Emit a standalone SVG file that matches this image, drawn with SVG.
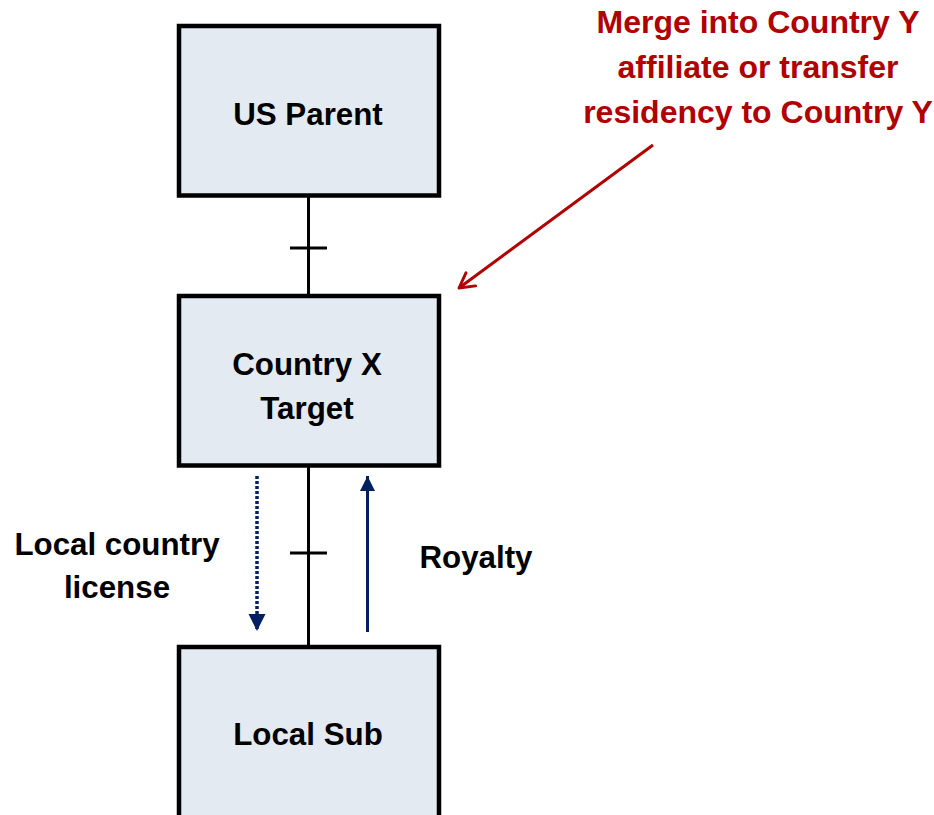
<svg xmlns="http://www.w3.org/2000/svg" width="934" height="815" viewBox="0 0 934 815">
<style>
.box{fill:#E4EAF2;stroke:#000;stroke-width:4.5}
.lbl{font-family:"Liberation Sans",Arial,sans-serif;font-weight:bold;font-size:31.3px;fill:#000;text-anchor:middle}
.red{font-family:"Liberation Sans",Arial,sans-serif;font-weight:bold;font-size:32px;fill:#B00000;text-anchor:middle}
.own{stroke:#000;stroke-width:3;fill:none}
.navy{stroke:#002060;stroke-width:3;fill:none}
</style>
<defs>
<marker id="navyHead" viewBox="0 0 10 10" refX="10" refY="5" markerWidth="5" markerHeight="5" orient="auto" markerUnits="strokeWidth">
<path d="M0,0 L10,5 L0,10 z" fill="#002060"/>
</marker>
<marker id="redHead" viewBox="0 0 12 12" refX="10" refY="6" markerWidth="6.5" markerHeight="6.5" orient="auto" markerUnits="strokeWidth">
<path d="M1,1 L10,6 L1,11" fill="none" stroke="#B00000" stroke-width="1.8" stroke-linecap="round" stroke-linejoin="round"/>
</marker>
</defs>
<g id="connectors">
<line class="own" x1="308.5" y1="196" x2="308.5" y2="296"/>
<line class="own" x1="290" y1="248" x2="327" y2="248"/>
<line class="own" x1="308.5" y1="465" x2="308.5" y2="647"/>
<line class="own" x1="290" y1="553" x2="327" y2="553"/>
<line x1="257" y1="476" x2="257" y2="631" stroke="#002060" stroke-width="3.5" stroke-dasharray="3,2" marker-end="url(#navyHead)"/>
<line class="navy" x1="367.5" y1="632" x2="367.5" y2="476" marker-end="url(#navyHead)"/>
<line x1="653" y1="145" x2="459" y2="288" stroke="#B00000" stroke-width="3" marker-end="url(#redHead)"/>
</g>
<g id="us-parent">
<rect class="box" x="179" y="26" width="260" height="169.5"/>
<text class="lbl" x="308" y="125">US Parent</text>
</g>
<g id="country-x-target">
<rect class="box" x="179" y="296" width="260" height="169.5"/>
<text class="lbl" x="307" y="375">Country X</text>
<text class="lbl" x="307" y="419">Target</text>
</g>
<g id="local-sub">
<rect class="box" x="179" y="647" width="260" height="200"/>
<text class="lbl" x="308" y="745">Local Sub</text>
</g>
<g id="license-label">
<text class="lbl" x="117" y="555">Local country</text>
<text class="lbl" x="117" y="598">license</text>
</g>
<g id="royalty-label">
<text class="lbl" x="476" y="568">Royalty</text>
</g>
<g id="note">
<text class="red" x="758" y="33">Merge into Country Y</text>
<text class="red" x="758" y="78">affiliate or transfer</text>
<text class="red" x="758" y="123">residency to Country Y</text>
</g>
</svg>
